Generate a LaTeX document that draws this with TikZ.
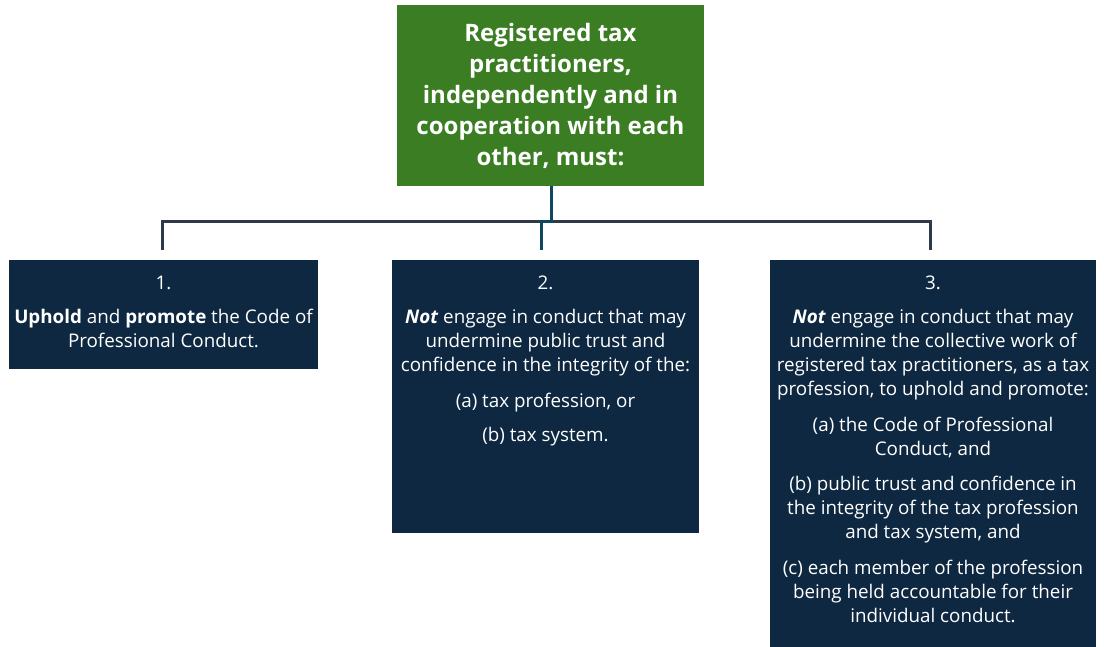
\documentclass[tikz,border=0pt]{standalone}
\usepackage{fontspec}
\setmainfont{Open Sans}
\usetikzlibrary{positioning}
\definecolor{titlegreen}{HTML}{3A7D22}
\definecolor{cardnavy}{HTML}{0E2841}
\definecolor{linkgray}{HTML}{2E3A46}
\definecolor{linkblue}{HTML}{0F4761}
\tikzset{
x=1pt, y=-1pt,
title/.style={fill=titlegreen, text=white, font=\bfseries\fontsize{24}{31}\selectfont, align=center, minimum width=307pt, minimum height=181pt, inner sep=0pt}, % the green heading box
card/.style={fill=cardnavy, anchor=north west, inner sep=0pt}, % navy duty boxes
cardtext/.style={text=white, font=\fontsize{18.8}{24}\selectfont, align=center, anchor=north, inner sep=0pt},
link/.style={linkgray, line width=3pt},
}

\begin{document}
\begin{tikzpicture}
\useasboundingbox (0,0) rectangle (1104,647);
\node[title] at (550.5, 95.5) (head) {Registered tax\\practitioners,\\independently and in\\cooperation with each\\other, must:};
\node[card, minimum width=309pt, minimum height=109pt] at (9, 260) (duty1) {};
\node[card, minimum width=307pt, minimum height=273pt] at (392, 260) (duty2) {};
\node[card, minimum width=326pt, minimum height=387pt] at (770, 260) (duty3) {};
\node[cardtext] at (163.5, 276) (text1) {1.\\[10pt]\textbf{Uphold} and \textbf{promote} the Code of\\Professional Conduct.};
\node[cardtext] at (545.5, 276) (text2) {2.\\[10pt]\textbf{\textit{Not}} engage in conduct that may\\undermine public trust and\\confidence in the integrity of the:\\[12pt](a) tax profession, or\\[10pt](b) tax system.};
\node[cardtext] at (933, 276) (text3) {3.\\[10pt]\textbf{\textit{Not}} engage in conduct that may\\undermine the collective work of\\registered tax practitioners, as a tax\\profession, to uphold and promote:\\[12pt](a) the Code of Professional\\Conduct, and\\[11pt](b) public trust and confidence in\\the integrity of the tax profession\\and tax system, and\\[12pt](c) each member of the profession\\being held accountable for their\\individual conduct.};
% bus line under the heading
\coordinate (bus) at (551, 222);
\coordinate (drop) at (541, 222);
\draw[link] ([yshift=10pt]duty1.north -| 162,0) |- (bus) -| ([yshift=10pt]duty3.north -| 930,0);
\draw[link, linkblue] (head.south -| bus) -- (bus) -- (drop) -- ([yshift=10pt]duty2.north -| drop);
\end{tikzpicture}
\end{document}
